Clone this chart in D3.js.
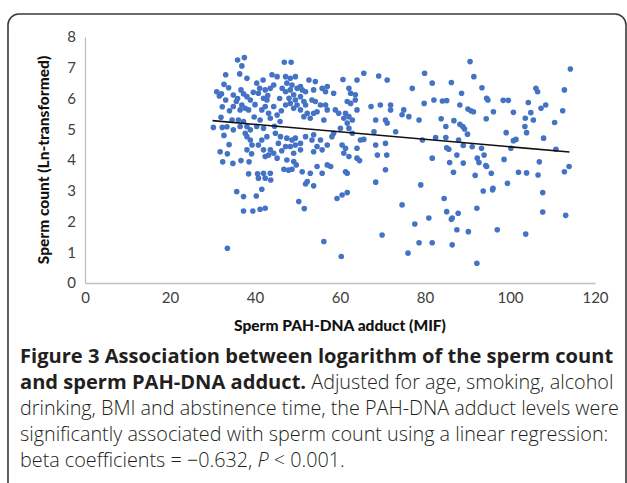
<!DOCTYPE html>
<html>
<head>
<meta charset="utf-8">
<script src="https://cdn.jsdelivr.net/npm/d3@7"></script>
<style>
  body { margin: 0; background: #fff; }
  svg { display: block; }
</style>
</head>
<body>
<div id="chart"></div>
<script>
// sperm PAH-DNA adduct (MIF) vs ln sperm count
var obs = [
  [35.9,7.25],[37.5,7.33],[36.9,7.06],[33.1,6.77],[36.4,6.8],[38.1,6.66],[32.7,6.46],[31.0,6.22],[31.6,6.08],[32.1,6.15],
  [33.1,5.95],[32.3,5.73],[32.0,5.39],[30.2,5.06],[32.3,5.06],[33.4,5.08],[32.7,4.8],[33.9,4.5],[31.8,4.27],[33.5,4.2],
  [32.4,3.94],[34.8,3.89],[36.7,3.98],[38.6,3.94],[34.9,6.11],[35.9,6.0],[35.6,5.9],[36.7,6.28],[37.3,6.15],[38.1,6.06],
  [38.9,5.95],[36.9,5.79],[37.7,5.68],[38.5,5.63],[36.5,5.63],[34.9,5.74],[34.6,5.3],[36.1,5.3],[37.3,5.25],[38.1,5.09],
  [38.9,4.98],[37.7,4.87],[38.1,4.76],[38.9,4.65],[39.3,4.49],[38.1,4.33],[36.5,5.09],[34.9,4.98],[40.4,6.5],[41.9,6.6],
  [41.1,6.33],[42.4,6.28],[43.6,6.33],[44.4,6.44],[45.2,6.71],[44.0,6.77],[40.8,6.17],[42.0,6.01],[42.8,5.95],[42.4,5.74],
  [41.6,5.63],[43.2,5.52],[43.6,5.36],[45.2,5.46],[44.4,5.74],[41.2,5.3],[40.4,5.09],[42.0,5.03],[42.8,4.76],[41.6,4.65],
  [40.8,4.49],[42.0,4.33],[43.2,4.16],[44.4,4.22],[42.4,4.11],[43.6,4.33],[45.2,4.06],[45.5,4.54],[44.8,4.87],[38.5,3.55],
  [40.6,3.55],[42.0,3.57],[43.6,3.57],[40.8,3.41],[42.4,3.41],[43.7,3.35],[35.7,2.97],[37.3,2.81],[40.3,2.83],[41.6,3.05],
  [37.3,2.34],[39.5,2.34],[41.2,2.4],[42.4,2.43],[33.5,1.13],
  [39.6,6.2],[40.0,5.8],[43.0,6.1],[45.8,6.0],[46.2,5.6],[39.8,5.4],[44.6,5.1],[45.9,5.25],[34.0,5.6],[33.8,6.35],
  [39.2,4.2],[46.3,4.3],
  [46.9,7.18],[48.5,7.18],[65.6,6.82],[69.1,6.73],[71.1,6.6],[64.0,6.6],[60.7,6.62],[79.9,6.82],[47.2,6.71],[48.3,6.66],
  [49.5,6.71],[47.5,6.5],[48.7,6.44],[46.4,6.33],[47.2,6.22],[48.3,6.28],[49.9,6.33],[50.7,6.39],[51.1,6.28],[51.9,6.22],
  [49.1,6.12],[48.0,6.01],[49.5,5.95],[50.7,6.06],[51.5,5.9],[48.3,5.84],[47.2,5.79],[49.9,5.79],[49.1,5.68],[50.7,5.63],
  [51.9,5.79],[52.7,6.6],[54.2,6.55],[53.8,6.28],[53.4,5.95],[54.2,5.9],[55.8,6.33],[57.0,6.39],[56.6,6.22],[58.5,6.17],
  [55.4,5.79],[56.6,5.79],[57.0,5.63],[54.6,5.57],[53.8,5.52],[52.3,5.52],[51.5,5.41],[53.0,5.36],[58.9,5.63],[59.7,5.52],
  [56.2,5.3],[62.1,6.33],[62.5,6.17],[63.6,6.12],[63.6,5.95],[62.5,5.84],[61.7,5.9],[64.0,5.63],[61.3,5.52],[62.1,5.41],
  [60.9,5.36],[62.9,5.3],[61.7,5.2],[60.1,5.03],[67.3,5.74],[69.5,5.79],[71.9,5.79],[71.9,5.63],[75.0,5.63],[74.6,5.47],
  [76.2,5.41],[78.6,5.3],[77.0,6.33],[79.8,5.84],[68.4,5.3],[70.7,5.3],[71.1,5.2],[68.0,4.92],[73.1,4.92],[62.1,5.03],
  [62.9,4.87],[58.5,4.87],[58.1,4.76],[46.0,4.76],[47.5,4.71],[48.7,4.65],[49.5,4.71],[47.2,4.44],[48.3,4.44],[49.5,4.49],
  [50.7,4.54],[51.9,4.76],[53.8,4.82],[53.4,4.65],[55.4,4.65],[54.6,4.44],[57.0,4.49],[53.8,4.27],[55.8,4.33],[50.7,4.33],
  [49.1,4.22],[47.5,4.0],[49.1,3.95],[46.8,3.7],[48.7,3.7],[49.7,3.84],[51.1,3.62],[53.0,3.57],[54.6,3.79],[55.8,3.57],
  [57.0,3.84],[57.8,3.79],[61.3,3.62],[61.7,3.57],[60.5,4.49],[61.3,4.38],[60.9,4.22],[62.1,4.11],[64.0,4.38],[64.8,4.65],
  [65.6,4.67],[64.0,4.06],[64.6,3.98],[68.4,4.49],[70.7,4.54],[68.8,4.16],[71.0,4.16],[70.7,3.68],[68.4,3.28],[52.3,3.3],
  [51.9,3.22],[53.8,3.16],[50.3,2.65],[51.6,2.42],[59.3,2.75],[60.5,2.86],[61.7,2.94],[74.6,2.54],[79.0,3.19],[80.9,2.11],
  [77.6,1.92],[78.6,1.31],[56.2,1.35],[69.9,1.56],[60.3,0.86],[76.0,0.97],[79.4,4.65],[47.9,3.67],
  [90.6,7.2],[114.2,6.96],[91.5,6.71],[81.7,6.5],[86.2,6.52],[88.6,6.17],[93.4,6.35],[94.5,6.01],[94.8,5.95],[82.1,5.95],
  [84.1,5.92],[85.1,5.93],[88.2,5.79],[90.1,5.66],[90.8,5.6],[91.4,5.57],[96.1,5.57],[98.4,5.94],[99.6,5.94],[100.8,5.55],
  [104.3,5.87],[104.9,5.54],[106.1,6.33],[106.5,6.22],[107.3,5.68],[108.4,5.79],[112.8,6.28],[112.4,5.6],[110.5,5.22],[103.6,5.36],
  [105.5,5.3],[103.5,5.09],[103.9,4.89],[83.8,5.34],[86.8,5.28],[84.9,5.09],[88.2,5.16],[88.9,5.09],[89.3,5.01],[94.4,5.34],
  [99.1,4.89],[90.0,4.84],[82.5,4.73],[84.9,4.73],[87.9,4.65],[100.8,4.63],[101.4,4.67],[107.9,4.71],[89.0,4.47],[91.1,4.43],
  [93.3,4.38],[100.2,4.38],[110.8,4.35],[85.1,4.4],[85.6,4.35],[87.5,4.16],[93.9,4.16],[81.7,4.06],[92.3,4.06],[92.7,3.92],
  [85.8,3.92],[89.0,3.9],[94.3,3.82],[94.5,3.79],[98.6,4.02],[106.9,3.94],[113.9,3.79],[112.8,3.62],[86.7,3.6],[91.8,3.5],
  [95.6,3.57],[102.0,3.6],[103.9,3.58],[106.6,3.51],[99.4,3.24],[93.7,2.99],[95.9,3.03],[96.0,3.08],[107.7,2.94],[84.5,2.75],
  [92.2,2.43],[85.1,2.32],[86.4,2.11],[87.8,2.27],[86.2,2.07],[107.7,2.31],[113.1,2.2],[87.5,1.73],[90.2,1.67],[97.0,1.73],
  [103.7,1.59],[81.7,1.31],[86.4,1.24],[92.2,0.64]
];

// linear fit drawn in the figure
var fitX = [30, 114];
var fitY = [5.28, 4.26];

var xTicks = [0, 20, 40, 60, 80, 100, 120];
var yTicks = [0, 1, 2, 3, 4, 5, 6, 7, 8];

var xTitle = "Sperm PAH-DNA adduct (MIF)";
var yTitle = "Sperm count (Ln-transformed)";

var W = 627, H = 483;

var svg = d3.select("#chart").append("svg")
  .attr("width", W)
  .attr("height", H);

// rounded frame around figure + caption
svg.append("rect")
  .attr("x", 8).attr("y", 14)
  .attr("width", 618).attr("height", 520)
  .attr("rx", 11).attr("ry", 11)
  .attr("fill", "none")
  .attr("stroke", "#3a3a3a")
  .attr("stroke-width", 1.6);

var xScale = d3.scaleLinear().domain([0, 120]).range([85, 595]);
var yScale = d3.scaleLinear().domain([0, 8]).range([283, 37]);

var xAxis = d3.axisBottom(xScale).tickValues(xTicks).tickSize(0).tickPadding(9);
var yAxis = d3.axisLeft(yScale).tickValues(yTicks).tickSize(0).tickPadding(9);

var gx = svg.append("g")
  .attr("transform", "translate(0," + yScale(0) + ")")
  .call(xAxis);
var gy = svg.append("g")
  .attr("transform", "translate(" + xScale(0) + ",0)")
  .call(yAxis);

[gx, gy].forEach(function (g) {
  g.select(".domain").attr("stroke", "#bfbfbf").attr("stroke-width", 1.3);
  g.selectAll("text")
    .attr("fill", "#404040")
    .style("font-family", "Lato, 'Open Sans', sans-serif")
    .style("font-size", "15px");
});

svg.append("g")
  .selectAll("circle")
  .data(obs)
  .enter()
  .append("circle")
  .attr("cx", function (d) { return xScale(d[0]); })
  .attr("cy", function (d) { return yScale(d[1]); })
  .attr("r", 2.8)
  .attr("fill", "#4472c4");

svg.append("line")
  .attr("x1", xScale(fitX[0])).attr("y1", yScale(fitY[0]))
  .attr("x2", xScale(fitX[1])).attr("y2", yScale(fitY[1]))
  .attr("stroke", "#111")
  .attr("stroke-width", 1.6);

svg.append("text")
  .attr("x", (xScale(0) + xScale(120)) / 2)
  .attr("y", 331)
  .attr("text-anchor", "middle")
  .attr("fill", "#111")
  .style("font-family", "Lato, 'Open Sans', sans-serif")
  .style("font-weight", "900")
  .style("font-size", "15.5px")
  .text(xTitle);

svg.append("text")
  .attr("transform", "translate(49," + (yScale(0) + yScale(8)) / 2 + ") rotate(-90)")
  .attr("text-anchor", "middle")
  .attr("fill", "#111")
  .style("font-family", "Lato, 'Open Sans', sans-serif")
  .style("font-weight", "900")
  .style("font-size", "15.5px")
  .text(yTitle);

// caption
var cap = svg.append("g")
  .style("font-family", "'Open Sans', sans-serif")
  .style("font-size", "19.8px")
  .attr("fill", "#231f20");

var lines = [
  [["Figure 3 Association between logarithm of the sperm count", "b"]],
  [["and sperm PAH-DNA adduct.", "b"], [" Adjusted for age, smoking, alcohol", "n"]],
  [["drinking, BMI and abstinence time, the PAH-DNA adduct levels were", "n"]],
  [["significantly associated with sperm count using a linear regression:", "n"]],
  [["beta coefficients = \u22120.632, ", "n"], ["P", "i"], [" < 0.001.", "n"]]
];
var baselines = [363, 389, 415, 441, 467];

lines.forEach(function (parts, i) {
  var t = cap.append("text").attr("x", 20).attr("y", baselines[i]);
  parts.forEach(function (p) {
    var s = t.append("tspan").text(p[0]);
    if (p[1] === "b") s.style("font-weight", "bold").style("font-size", "20.1px");
    else s.style("font-weight", "300");
    if (p[1] === "i") s.style("font-style", "italic");
  });
});
</script>
</body>
</html>
